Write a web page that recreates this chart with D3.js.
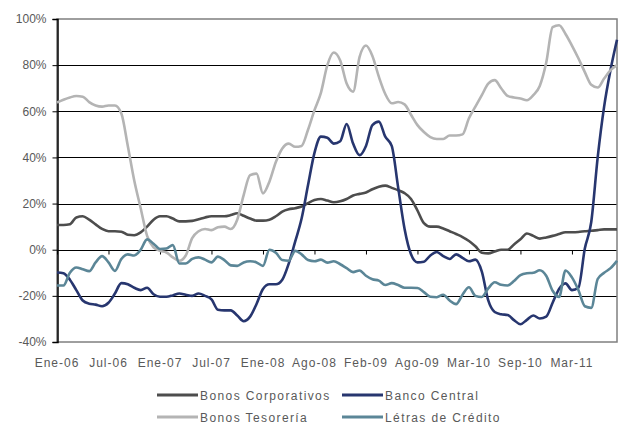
<!DOCTYPE html>
<html lang="es">
<head>
<meta charset="UTF-8">
<title>Chart</title>
<script src="https://cdn.jsdelivr.net/npm/d3@7/dist/d3.min.js"></script>
<style>
  body { margin: 0; background: #fff; }
  text { font-family: "Liberation Sans", Arial, sans-serif; fill: #595959; }
</style>
</head>
<body>
<script>
// tick labels of the category axis (one every 8 points)
var tickLabels = ["Ene-06", "Jul-06", "Ene-07", "Jul-07", "Ene-08", "Ago-08", "Feb-09", "Ago-09", "Mar-10", "Sep-10", "Mar-11"];
var yTicks = [-40, -20, 0, 20, 40, 60, 80, 100];

// series values in %
var bonosCorporativos = [10.7, 10.7, 11, 14, 14.5, 13, 11, 9, 8, 8, 7.8, 6.5, 6.3, 7.5, 10, 13, 14.5, 14.5, 13.5, 12.3, 12.3, 12.5,
  13.2, 14, 14.5, 14.5, 14.5, 15, 15.8, 14.7, 13.5, 12.6, 12.6, 13, 14.5, 16.5, 17.5, 18, 18.7, 20.2, 21.5, 22, 21.3, 20.6,
  21, 22, 23.5, 24.2, 24.8, 26.2, 27.3, 27.8, 26.8, 25.8, 24.5, 22, 17, 11.5, 10, 10, 9.2, 8, 6.8, 5.5, 3.8, 1.5,
  -1.3, -1.6, -0.8, 0, 0, 2.3, 4.5, 7, 6, 4.8, 5.3, 6, 6.8, 7.6, 7.6, 7.7, 8, 8.2, 8.5, 8.8, 8.8, 8.8];
var bancoCentral = [-9.9, -10.2, -13, -17.5, -22, -23.4, -23.8, -24.5, -23, -19, -14.5, -15, -16.5, -17.5, -16.5, -19.3, -20.4, -20.4, -19.8, -19, -19.5, -20,
  -19, -20, -21.5, -26, -26.3, -26.3, -28.5, -31, -29, -23.5, -17, -15, -15, -13, -6, 3.5, 13.5, 28, 42, 49, 48.5, 46,
  47, 54.5, 46, 41, 45, 54, 55.5, 49, 45, 27, 9, -2, -5.5, -5.2, -2.5, -1, -2.8, -4, -2, -3.5, -5, -4.3,
  -9.5, -22, -27, -28, -28.3, -30.5, -32.3, -30.4, -28.5, -29.8, -29, -23, -17, -14.6, -17.5, -16.5, 0.5, 12, 40, 62, 78, 91];
var bonosTesoreria = [63.8, 65, 66, 66.6, 66.3, 64, 62.5, 62, 62.5, 62.5, 59, 45, 30, 18, 6, 1, -0.5, -1.2, -3.3, -4.8, -2.5, 5,
  8, 9, 8.5, 9.7, 10, 9, 13, 23.7, 32.3, 33, 24.4, 29.5, 38, 43.9, 46, 44.6, 45, 52, 60.5, 68, 80, 85.5,
  82, 72, 68.5, 83.5, 88.5, 84, 75, 67.5, 63.5, 64, 63, 58.5, 54, 51, 48.8, 48, 48, 49.5, 49.5, 50, 57, 62,
  67, 72, 73.5, 70, 66.7, 66, 65.5, 64.8, 67, 71, 81, 96.5, 97.3, 93.5, 88.5, 83, 77, 71.5, 70.3, 74.2, 77.8, 80];
var letrasCredito = [-15.5, -15.5, -10, -7.7, -8.5, -9.3, -5.5, -2.8, -5.5, -9.2, -4, -2, -2.5, 0, 4.5, 2.6, 0.3, 0.5, 2, -6, -6, -4,
  -3.3, -4.3, -5.5, -3, -4.5, -6.8, -7, -5.5, -5, -5.5, -7, 0, -1.3, -4.5, -4.8, -0.5, -2, -4.5, -5, -4.3, -5.6, -5,
  -6.3, -8, -9.7, -9, -11.3, -12.8, -13.4, -15.3, -14.5, -15.3, -16.5, -16.5, -16.6, -18.4, -20.4, -20.6, -19.5, -22, -23.6, -19.5, -16.3, -20,
  -20.5, -16.8, -14.1, -15.2, -15.5, -13.6, -11, -10.2, -10, -8.9, -11.3, -17.8, -20.5, -9, -12, -17.5, -24.5, -25.2, -12.7, -10, -8, -4.8];

var seriesNames = ["Bonos Corporativos", "Banco Central", "Bonos Tesorería", "Létras de Crédito"];
var seriesColors = ["#4d4d4d", "#27366f", "#b4b4b4", "#5b8697"];
var seriesData = [bonosCorporativos, bancoCentral, bonosTesoreria, letrasCredito];

var width = 621, height = 426;
var plotLeft = 57, plotRight = 617, plotTop = 19, plotBottom = 342;
var n = bonosCorporativos.length;
var tickStep = 8;

var svg = d3.select("body").append("svg")
  .attr("width", width)
  .attr("height", height);

var x = d3.scaleLinear().domain([0, n - 1]).range([plotLeft, plotRight]);
var y = d3.scaleLinear().domain([-40, 100]).range([plotBottom, plotTop]);

// horizontal grid lines
svg.append("g")
  .selectAll("line")
  .data(yTicks.filter(function (d) { return d > -40 && d < 100; }))
  .enter().append("line")
  .attr("x1", plotLeft).attr("x2", plotRight)
  .attr("y1", function (d) { return Math.round(y(d)) + 0.5; })
  .attr("y2", function (d) { return Math.round(y(d)) + 0.5; })
  .attr("stroke", "#000")
  .attr("stroke-width", 1);

// plot border
svg.append("rect")
  .attr("x", plotLeft).attr("y", plotTop)
  .attr("width", plotRight - plotLeft).attr("height", plotBottom - plotTop)
  .attr("fill", "none")
  .attr("stroke", "#7f7f7f")
  .attr("stroke-width", 1.5);

// y axis
var yAxis = d3.axisLeft(y)
  .tickValues(yTicks)
  .tickSize(5)
  .tickPadding(6)
  .tickFormat(function (d) { return d + "%"; });
var gy = svg.append("g")
  .attr("transform", "translate(" + (plotLeft + 0.5) + ",0)")
  .call(yAxis);
gy.select(".domain").attr("stroke", "#000").attr("stroke-width", 1.5);
gy.selectAll(".tick line").attr("stroke", "#000");
gy.selectAll("text")
  .attr("font-size", 12)
  .attr("fill", "#595959")
  .style("font-family", "Liberation Sans, Arial, sans-serif");

// x axis on the 0% line, labels below the plot
var xTicks = d3.range(0, tickLabels.length).map(function (i) { return i * tickStep; });
var xAxis = d3.axisBottom(x)
  .tickValues(xTicks)
  .tickSize(4)
  .tickFormat("");
var gx = svg.append("g")
  .attr("transform", "translate(0," + (Math.round(y(0)) + 0.5) + ")")
  .call(xAxis);
gx.select(".domain").remove();
gx.selectAll(".tick line").attr("stroke", "#000");

svg.append("g")
  .selectAll("text")
  .data(tickLabels)
  .enter().append("text")
  .attr("x", function (d, i) { return x(xTicks[i]); })
  .attr("y", 367)
  .attr("text-anchor", "middle")
  .attr("font-size", 12)
  .attr("letter-spacing", 1)
  .text(function (d) { return d; });

// series lines
var line = d3.line()
  .x(function (d, i) { return x(i); })
  .y(function (d) { return y(d); })
  .curve(d3.curveMonotoneX);

svg.append("g")
  .selectAll("path")
  .data(seriesData)
  .enter().append("path")
  .attr("d", line)
  .attr("fill", "none")
  .attr("stroke", function (d, i) { return seriesColors[i]; })
  .attr("stroke-width", 2.6)
  .attr("stroke-linejoin", "round");

// legend, two columns
var legendX = [157, 342], legendY = [395, 417];
var legend = svg.append("g")
  .selectAll("g")
  .data(seriesNames)
  .enter().append("g")
  .attr("transform", function (d, i) {
    return "translate(" + legendX[i % 2] + "," + legendY[Math.floor(i / 2)] + ")";
  });
legend.append("line")
  .attr("x1", 0).attr("x2", 41)
  .attr("stroke", function (d, i) { return seriesColors[i]; })
  .attr("stroke-width", 3);
legend.append("text")
  .attr("x", 43)
  .attr("y", 4.5)
  .attr("font-size", 12)
  .attr("letter-spacing", 1.4)
  .text(function (d) { return d; });
</script>
</body>
</html>
